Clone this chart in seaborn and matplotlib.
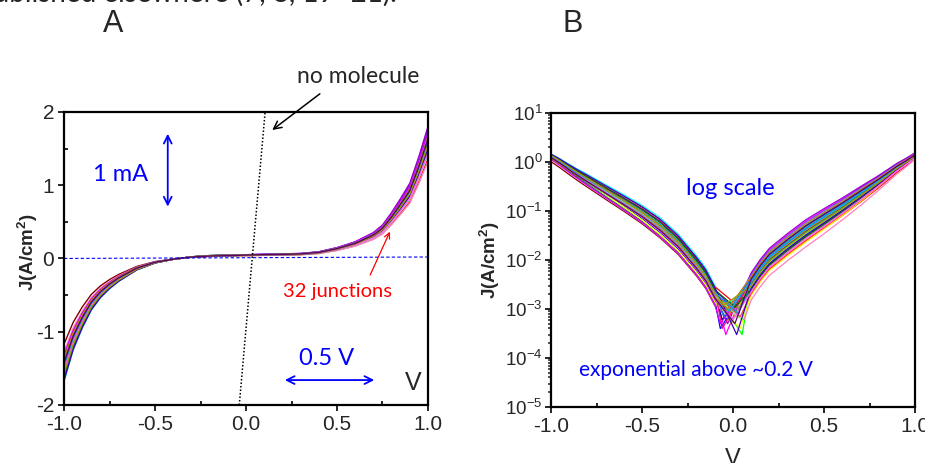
import numpy as np
import pandas as pd
import seaborn as sns
import matplotlib
matplotlib.use('Agg')
import matplotlib.pyplot as plt
from matplotlib.ticker import MultipleLocator, LogLocator, NullFormatter

# panel A: typical linear J-V curve (A/cm2)
V_GRID_A = [-1.0, -0.95, -0.9, -0.85, -0.8, -0.75, -0.7, -0.6, -0.5, -0.4, -0.3, -0.2, -0.1, 0.0,
            0.1, 0.2, 0.3, 0.4, 0.5, 0.6, 0.7, 0.75, 0.8, 0.85, 0.9, 0.95, 1.0]
J_A_TYPICAL = [-1.50, -1.12, -0.85, -0.63, -0.48, -0.37, -0.28, -0.14, -0.055, -0.01, 0.02, 0.035, 0.04, 0.045,
               0.05, 0.055, 0.06, 0.08, 0.13, 0.20, 0.31, 0.40, 0.55, 0.72, 0.90, 1.22, 1.58]

# panel B: typical |J| on log scale, dip handled per junction
V_GRID_B = [-1.0, -0.95, -0.9, -0.85, -0.8, -0.7, -0.6, -0.5, -0.4, -0.3, -0.2, -0.15, -0.1,
            0.1, 0.15, 0.2, 0.3, 0.4, 0.5, 0.6, 0.7, 0.8, 0.85, 0.9, 0.95, 1.0]
J_B_TYPICAL = [1.30, 1.00, 0.75, 0.57, 0.44, 0.26, 0.155, 0.090, 0.048, 0.022, 0.008, 0.0045, 0.0020,
               0.0033, 0.0062, 0.0105, 0.021, 0.040, 0.070, 0.122, 0.22, 0.40, 0.55, 0.76, 1.00, 1.35]
# how strongly the mid-range spread shows at each panel-B voltage (0 at the ends)
MID_WEIGHT_B = [0.0, 0.1, 0.2, 0.3, 0.4, 0.55, 0.7, 0.85, 1.0, 1.0, 1.0, 1.0, 1.0,
                1.0, 1.0, 1.0, 1.0, 1.0, 0.9, 0.75, 0.6, 0.4, 0.3, 0.2, 0.1, 0.0]

# 32 junctions
JUNCTION_COLORS = ['#000000', '#FF0000', '#0000FF', '#FF00FF', '#008000', '#000080', '#8000FF', '#9900CC',
                   '#800000', '#00FF00', '#00FFFF', '#FFFF00', '#FF80C0', '#FF8000', '#008080', '#0080FF',
                   '#808000', '#C0C000', '#808080', '#FF0080', '#80FF80', '#8080FF', '#006400', '#CC00FF',
                   '#FF4040', '#00C0C0', '#4000C0', '#C08000', '#FF60FF', '#00A0FF', '#A0A000', '#600060']
SCALE_NEG = [1.00, 1.10, 0.95, 1.05, 0.92, 1.02, 0.98, 1.08, 0.78, 0.96, 1.12, 1.06, 0.85, 0.97, 1.03, 0.90,
             1.01, 0.94, 1.09, 0.99, 1.04, 0.93, 1.07, 0.88, 1.00, 0.96, 1.11, 0.91, 1.02, 0.97, 1.05, 0.95]
SCALE_POS = [1.00, 0.86, 1.05, 1.10, 0.95, 1.02, 1.12, 1.14, 0.98, 0.92, 1.08, 0.97, 0.84, 0.96, 1.04, 1.06,
             0.99, 0.93, 1.01, 1.03, 0.90, 1.07, 0.94, 1.09, 0.97, 1.00, 0.95, 1.05, 0.91, 1.02, 0.98, 1.03]
MID_SCALE_NEG_B = [1.10, 1.30, 0.80, 1.20, 0.70, 1.00, 1.25, 0.90, 0.75, 1.15, 1.35, 0.65, 0.72, 1.05, 0.85, 1.20,
                   0.95, 1.10, 0.80, 1.30, 0.90, 1.00, 1.15, 0.70, 1.05, 0.85, 1.25, 0.95, 0.78, 1.12, 1.00, 0.88]
MID_SCALE_POS_B = [1.00, 0.70, 1.10, 1.40, 0.85, 0.95, 1.30, 1.45, 0.80, 1.15, 0.75, 0.60, 0.55, 1.05, 0.90, 1.20,
                   0.88, 1.25, 0.70, 1.10, 0.95, 1.35, 0.80, 1.00, 0.65, 1.15, 0.85, 1.30, 0.75, 1.05, 0.92, 1.20]
DIP_V = [-0.05, 0.00, -0.07, -0.04, 0.02, -0.06, 0.03, -0.03, 0.01, 0.05, -0.08, 0.04, 0.06, -0.02, 0.02, -0.05,
         0.00, -0.01, 0.03, -0.06, 0.05, -0.04, 0.01, -0.07, 0.04, -0.02, 0.02, -0.03, 0.00, 0.03, -0.05, 0.01]
DIP_J = [0.0007, 0.0014, 0.0004, 0.0003, 0.0009, 0.0006, 0.0008, 0.0005, 0.0011, 0.0003, 0.0010, 0.0004,
         0.0006, 0.0008, 0.0012, 0.0007, 0.0009, 0.0005, 0.0010, 0.0004, 0.0006, 0.0008, 0.0011, 0.0005,
         0.0007, 0.0009, 0.0003, 0.0010, 0.0006, 0.0008, 0.0012, 0.0005]

NO_MOLECULE_V = [-0.037, 0.105]
NO_MOLECULE_J = [-2.0, 2.0]
ZERO_LINE_V = [-1.0, 1.0]
ZERO_LINE_J = [0.0, 0.02]


def build_a():
    rows = []
    for i in range(len(JUNCTION_COLORS)):
        for v, j in zip(V_GRID_A, J_A_TYPICAL):
            s = SCALE_NEG[i] if v < 0 else SCALE_POS[i]
            rows.append((f'j{i}', v, j * s))
    return pd.DataFrame(rows, columns=['junction', 'V', 'J'])


def build_b():
    rows = []
    for i in range(len(JUNCTION_COLORS)):
        prev_v = None
        for v, j, w in zip(V_GRID_B, J_B_TYPICAL, MID_WEIGHT_B):
            if v > 0 and prev_v is not None and prev_v < 0:
                rows.append((f'j{i}', DIP_V[i], DIP_J[i]))
            if v < 0:
                s = SCALE_NEG[i] * MID_SCALE_NEG_B[i] ** w
            else:
                s = SCALE_POS[i] * MID_SCALE_POS_B[i] ** w
            rows.append((f'j{i}', v, j * s))
            prev_v = v
    return pd.DataFrame(rows, columns=['junction', 'V', 'J'])


def style_axis(ax):
    for sp in ax.spines.values():
        sp.set_linewidth(1.6)
        sp.set_color('black')
        sp.set_visible(True)
    ax.set_xlim(-1.0, 1.0)
    ax.xaxis.set_major_locator(MultipleLocator(0.5))
    ax.xaxis.set_minor_locator(MultipleLocator(0.25))
    ax.tick_params(axis='both', which='major', direction='out', length=4, width=1.4,
                   labelsize=15, pad=3, top=False, right=False)
    ax.tick_params(axis='x', which='minor', direction='in', length=3, width=1.4, top=False)
    ax.set_xticks([-1.0, -0.5, 0.0, 0.5, 1.0])
    ax.set_xticklabels(['-1.0', '-0.5', '0.0', '0.5', '1.0'])


def main():
    sns.set_style('ticks')
    plt.rcParams['font.family'] = ['Liberation Sans', 'DejaVu Sans']
    plt.rcParams['mathtext.fontset'] = 'custom'
    plt.rcParams['mathtext.rm'] = 'Liberation Sans'
    plt.rcParams['mathtext.bf'] = 'Liberation Sans:bold'
    plt.rcParams['axes.unicode_minus'] = False

    fig = plt.figure(figsize=(9.25, 4.63), dpi=100)
    ax_a = fig.add_axes([0.0692, 0.1253, 0.3935, 0.633])
    ax_b = fig.add_axes([0.5957, 0.121, 0.3935, 0.635])

    palette = dict(zip([f'j{i}' for i in range(len(JUNCTION_COLORS))], JUNCTION_COLORS))
    txt_font = ['Lato', 'DejaVu Sans']

    # ---- panel A
    df_a = build_a()
    sns.lineplot(data=df_a, x='V', y='J', hue='junction', palette=palette, estimator=None,
                 sort=False, legend=False, linewidth=1.0, ax=ax_a)
    ax_a.plot(ZERO_LINE_V, ZERO_LINE_J, color='#0000FF', linestyle=(0, (3, 2)), linewidth=0.8)
    ax_a.plot(NO_MOLECULE_V, NO_MOLECULE_J, color='black', linestyle=(0, (1, 1.3)), linewidth=1.1)
    style_axis(ax_a)
    ax_a.set_ylim(-2, 2)
    ax_a.yaxis.set_major_locator(MultipleLocator(1))
    ax_a.yaxis.set_minor_locator(MultipleLocator(0.5))
    ax_a.tick_params(axis='y', which='minor', direction='in', length=3, width=1.4, right=False)
    ax_a.set_xlabel('')
    ax_a.set_ylabel(r'J(A/cm$\mathbf{^2}$)', fontsize=13.5, fontweight='bold')
    ax_a.yaxis.set_label_coords(-0.066, 0.52)

    ax_a.text(0.615, 2.49, 'no molecule', fontsize=16.5, family=txt_font, ha='center', va='center',
              clip_on=False)
    ax_a.annotate('', xy=(0.132, 1.73), xytext=(0.418, 2.27), annotation_clip=False,
                  arrowprops=dict(arrowstyle='->', color='black', lw=1.1, mutation_scale=14))
    ax_a.text(-0.687, 1.15, '1 mA', fontsize=17, family=txt_font, color='#0000FF', ha='center', va='center')
    ax_a.annotate('', xy=(-0.43, 0.67), xytext=(-0.43, 1.74),
                  arrowprops=dict(arrowstyle='<->', color='#0000FF', lw=1.3, mutation_scale=14))
    ax_a.text(0.50, -0.45, '32 junctions', fontsize=14.5, family=txt_font, color='#FF0000',
              ha='center', va='center')
    ax_a.annotate('', xy=(0.797, 0.40), xytext=(0.676, -0.26),
                  arrowprops=dict(arrowstyle='->', color='#FF0000', lw=0.9, mutation_scale=10))
    ax_a.text(0.44, -1.37, '0.5 V', fontsize=17, family=txt_font, color='#0000FF', ha='center', va='center')
    ax_a.annotate('', xy=(0.198, -1.66), xytext=(0.72, -1.66),
                  arrowprops=dict(arrowstyle='<->', color='#0000FF', lw=1.3, mutation_scale=14))
    ax_a.text(0.918, -1.70, 'V', fontsize=18, ha='center', va='center')

    # ---- panel B
    df_b = build_b()
    sns.lineplot(data=df_b, x='V', y='J', hue='junction', palette=palette, estimator=None,
                 sort=False, legend=False, linewidth=0.9, ax=ax_b)
    ax_b.set_yscale('log')
    style_axis(ax_b)
    ax_b.set_ylim(1e-5, 10)
    ax_b.yaxis.set_major_locator(LogLocator(base=10, numticks=10))
    ax_b.yaxis.set_minor_locator(LogLocator(base=10, subs=np.arange(2, 10), numticks=10))
    ax_b.yaxis.set_minor_formatter(NullFormatter())
    ax_b.tick_params(axis='y', which='major', labelsize=13.5, pad=2)
    ax_b.tick_params(axis='y', which='minor', direction='out', length=2.5, width=1.1, right=False)
    ax_b.set_ylabel(r'J(A/cm$\mathbf{^2}$)', fontsize=13.5, fontweight='bold')
    ax_b.yaxis.set_label_coords(-0.135, 0.5)
    ax_b.set_xlabel('V', fontsize=17)
    ax_b.xaxis.set_label_coords(0.5, -0.14)

    ax_b.text(-0.016, 0.29, 'log scale', fontsize=17, family=txt_font, color='#0000FF', ha='center', va='center')
    ax_b.text(-0.203, 5.7e-5, 'exponential above ~0.2 V', fontsize=15, family=txt_font, color='#0000FF',
              ha='center', va='center')

    # panel letters and cut-off caption text
    fig.text(113 / 925, 1 - 24 / 463, 'A', fontsize=22, ha='center', va='center')
    fig.text(573 / 925, 1 - 24 / 463, 'B', fontsize=22, ha='center', va='center')
    fig.text(397 / 925, 1 - 2 / 463, 'published elsewhere (7, 8, 19\u201321).', fontsize=20,
             family=txt_font, ha='right', va='baseline')

    fig.savefig('out.png', dpi=100)
    plt.close(fig)


if __name__ == '__main__':
    main()
